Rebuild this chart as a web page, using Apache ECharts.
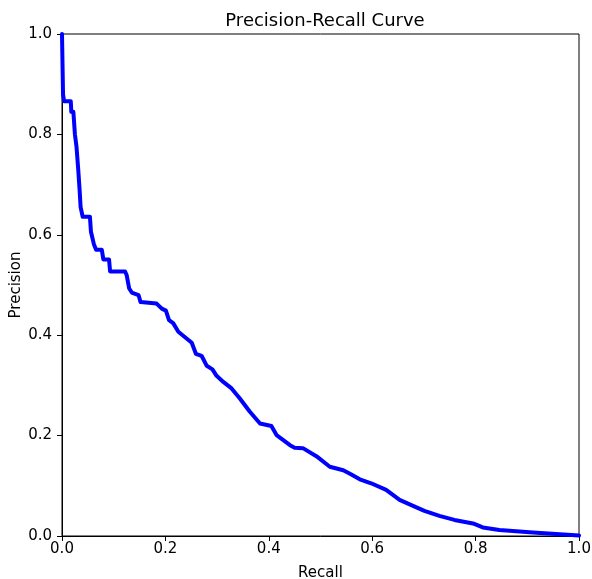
<!DOCTYPE html>
<html>
<head>
<meta charset="utf-8">
<script src="https://cdn.jsdelivr.net/npm/echarts@6/dist/echarts.min.js"></script>
<style>html,body{margin:0;padding:0;background:#fff}#c{width:592px;height:579px}</style>
</head>
<body>
<div id="c"></div>
<script>
const recall = [0, 0.002, 0.004, 0.017, 0.018, 0.022, 0.025, 0.028, 0.0315, 0.034, 0.036, 0.040, 0.054, 0.056, 0.059, 0.062, 0.066, 0.077, 0.080, 0.091, 0.093, 0.122, 0.125, 0.130, 0.135, 0.148, 0.152, 0.183, 0.193, 0.201, 0.207, 0.215, 0.225, 0.238, 0.251, 0.259, 0.270, 0.280, 0.291, 0.299, 0.312, 0.328, 0.344, 0.363, 0.383, 0.405, 0.415, 0.441, 0.450, 0.466, 0.492, 0.518, 0.544, 0.557, 0.576, 0.598, 0.627, 0.653, 0.679, 0.701, 0.730, 0.759, 0.795, 0.814, 0.846, 0.911, 1.0];
const precision = [1.0, 0.88, 0.866, 0.866, 0.845, 0.845, 0.80, 0.776, 0.729, 0.69, 0.655, 0.636, 0.636, 0.606, 0.606, 0.58, 0.570, 0.570, 0.551, 0.551, 0.527, 0.527, 0.52, 0.493, 0.485, 0.480, 0.466, 0.463, 0.453, 0.449, 0.430, 0.424, 0.407, 0.396, 0.385, 0.363, 0.359, 0.339, 0.332, 0.319, 0.307, 0.294, 0.274, 0.248, 0.224, 0.219, 0.201, 0.181, 0.176, 0.175, 0.159, 0.138, 0.131, 0.124, 0.113, 0.105, 0.092, 0.072, 0.060, 0.050, 0.040, 0.032, 0.025, 0.017, 0.012, 0.007, 0.001];
const titleText = 'Precision-Recall Curve';
const xName = 'Recall';
const yName = 'Precision';

const chart = echarts.init(document.getElementById('c'));
const font = 'DejaVu Sans';
const axisCommon = {
  min: 0, max: 1, interval: 0.2,
  axisLine: {show: true, onZero: false, lineStyle: {color: '#000', width: 1}},
  axisTick: {show: true, inside: false, length: 5, lineStyle: {color: '#000', width: 1}},
  axisLabel: {color: '#000', fontSize: 15, fontFamily: font, formatter: v => v.toFixed(1)},
  splitLine: {show: false},
  nameLocation: 'middle',
  nameMoveOverlap: false,
  nameTextStyle: {color: '#000', fontSize: 15, fontFamily: font}
};
chart.setOption({
  animation: false,
  title: {text: titleText, left: 320, top: 7, textAlign: 'center',
    textStyle: {fontSize: 18, fontWeight: 'normal', color: '#000', fontFamily: font}},
  grid: {left: 62, right: 13, top: 34, bottom: 43, show: true, borderColor: '#000', borderWidth: 1,
    containLabel: false, outerBoundsMode: 'none'},
  xAxis: Object.assign({}, axisCommon, {type: 'value', name: xName, nameGap: 30,
    axisLabel: Object.assign({}, axisCommon.axisLabel, {margin: 6})}),
  yAxis: Object.assign({}, axisCommon, {type: 'value', name: yName, nameGap: 38,
    axisLabel: Object.assign({}, axisCommon.axisLabel, {margin: 10})}),
  series: [{
    type: 'line',
    data: recall.map((r, i) => [r, precision[i]]),
    showSymbol: false,
    lineStyle: {color: '#0000ff', width: 4, cap: 'round', join: 'round'},
    itemStyle: {color: '#0000ff'}
  }]
});
</script>
</body>
</html>
